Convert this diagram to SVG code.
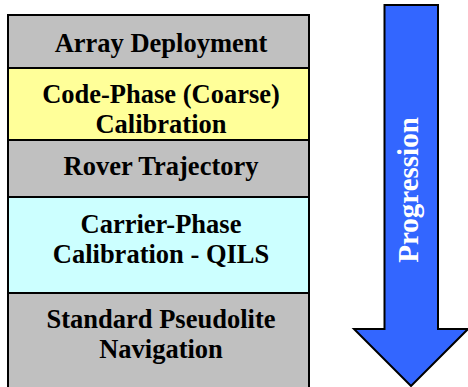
<svg xmlns="http://www.w3.org/2000/svg" width="468" height="387" viewBox="0 0 468 387">
<style>
.box{stroke:#000;stroke-width:2}
.t{font-family:"Liberation Serif","Times New Roman",serif;font-weight:bold;font-size:26.5px;fill:#000;text-anchor:middle}
.gray{fill:#C0C0C0}
</style>
<rect width="468" height="387" fill="#fff"/>
<g id="array-deployment">
<rect class="box gray" x="8" y="15" width="301" height="53"/>
<text class="t" x="161" y="52">Array Deployment</text>
</g>
<g id="code-phase">
<rect class="box" fill="#FFFF99" x="8" y="68" width="301" height="72"/>
<text class="t" x="161" y="103">Code-Phase (Coarse)</text>
<text class="t" x="161" y="133">Calibration</text>
</g>
<g id="rover-trajectory">
<rect class="box gray" x="8" y="140" width="301" height="57"/>
<text class="t" x="161" y="175">Rover Trajectory</text>
</g>
<g id="carrier-phase">
<rect class="box" fill="#CCFFFF" x="8" y="197" width="301" height="96"/>
<text class="t" x="161" y="233">Carrier-Phase</text>
<text class="t" x="161" y="263">Calibration - QILS</text>
</g>
<g id="standard-navigation">
<rect class="box gray" x="8" y="293" width="301" height="100"/>
<text class="t" x="161" y="328">Standard Pseudolite</text>
<text class="t" x="161" y="358">Navigation</text>
</g>
<g id="progression-arrow">
<polygon points="384.5,5 438,5 438,329 468,329 411,386 354,329 384.5,329" fill="#3366FF" stroke="#000" stroke-width="2" stroke-linejoin="miter"/>
<text transform="translate(418,190) rotate(-90)" font-family="Liberation Serif,'Times New Roman',serif" font-weight="bold" font-size="29" fill="#fff" text-anchor="middle">Progression</text>
</g>
</svg>
